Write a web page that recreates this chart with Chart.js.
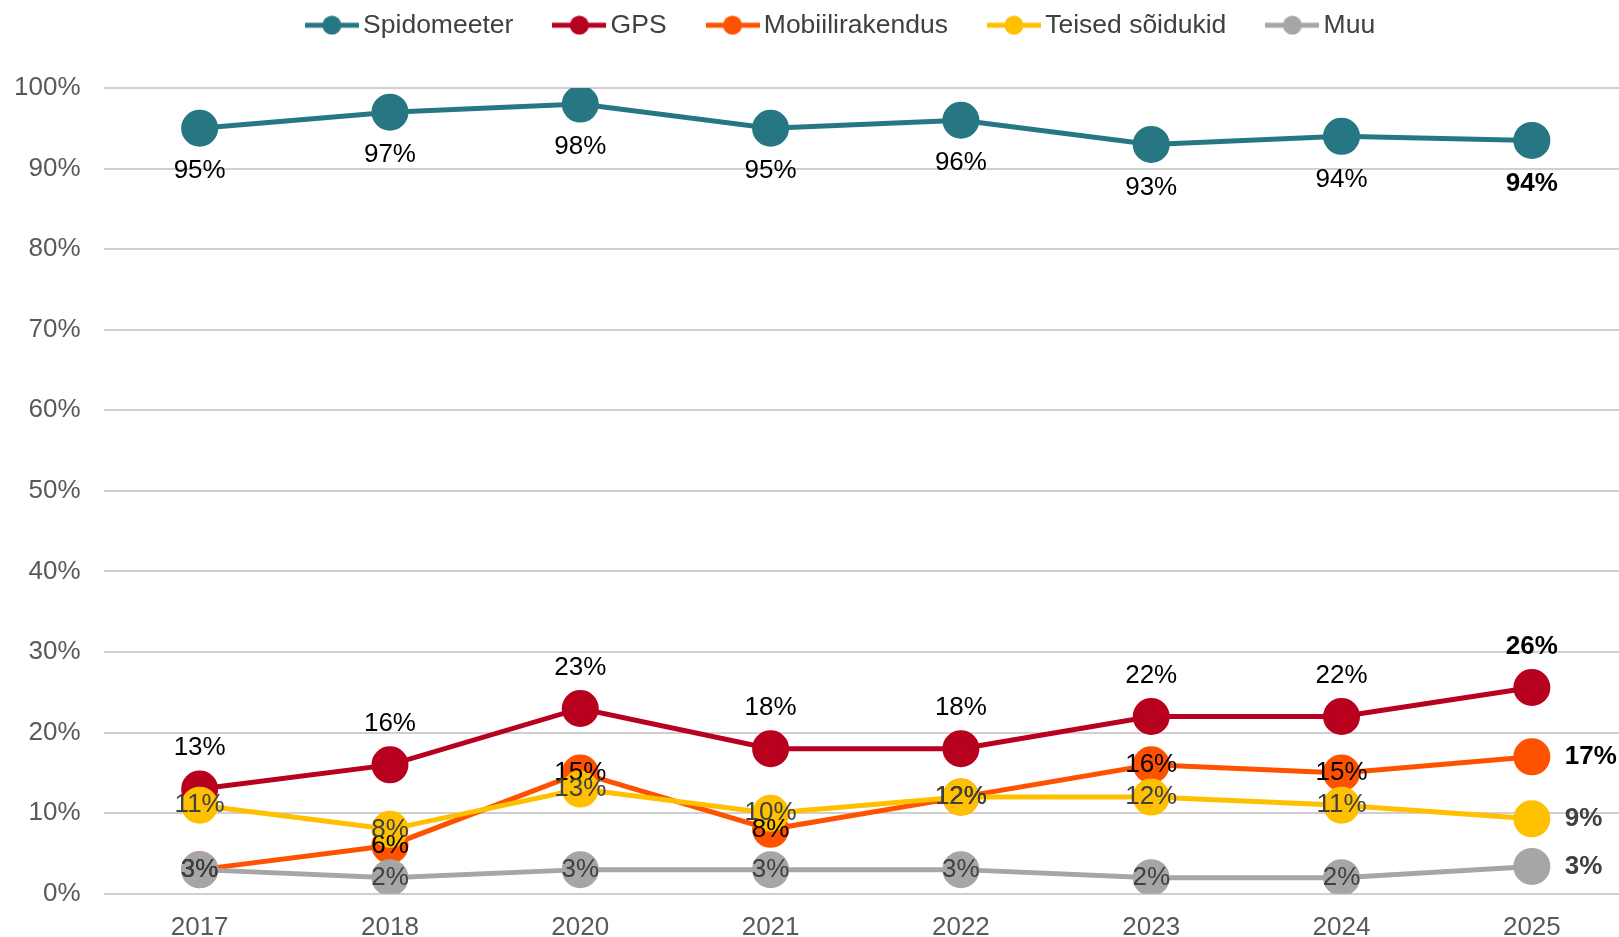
<!DOCTYPE html>
<html lang="et">
<head>
<meta charset="UTF-8">
<title>Kiiruse mõõtmine</title>
<script src="https://cdn.jsdelivr.net/npm/chart.js"></script>
<style>
    body {
        margin: 0;
        background: #fff;
        overflow: hidden;
    }
    .chart-box {
        width: 1627px; /* plot runs a bit past the right edge, like the original */
        height: 937px;
    }
</style>
</head>
<body>
<div class="chart-box"><canvas id="chart" width="1627" height="937"></canvas></div>
<script>
    const years = ['2017', '2018', '2020', '2021', '2022', '2023', '2024', '2025'];
    const spidomeeter = [95, 97, 98, 95, 96, 93, 94, 93.5];
    const gps = [13, 16, 23, 18, 18, 22, 22, 25.6];
    const mobiil = [3, 6, 15, 8, 12, 16, 15, 17];
    const teised = [11, 8, 13, 10, 12, 12, 11, 9.3];
    const muu = [3, 2, 3, 3, 3, 2, 2, 3.4];
    const yTicks = [0, 10, 20, 30, 40, 50, 60, 70, 80, 90, 100];

    const FONT = '"Liberation Sans", Arial, sans-serif';
    const LEGEND_H = 124;
    const LEGEND_SHIFT = 36;

    // legend marker: short line with a dot in the middle
    function legendMarker(color) {
        const c = document.createElement('canvas');
        c.width = 54;
        c.height = 20;
        const g = c.getContext('2d');
        g.strokeStyle = color;
        g.lineWidth = 5;
        g.beginPath();
        g.moveTo(0, 10);
        g.lineTo(54, 10);
        g.stroke();
        g.fillStyle = color;
        g.beginPath();
        g.arc(27, 10, 9.5, 0, Math.PI * 2);
        g.fill();
        return c;
    }

    function makeSeries(label, data, color, order, pos, lastPos, labelColor) {
        return {
            label: label,
            data: data,
            borderColor: color,
            backgroundColor: color,
            pointBackgroundColor: color,
            pointBorderColor: color,
            borderWidth: 5,
            pointRadius: 16,
            pointHoverRadius: 16,
            tension: 0,
            fill: false,
            order: order,
            labelPos: pos,
            lastLabelPos: lastPos,
            labelColor: labelColor,
            marker: legendMarker(color)
        };
    }

    // value labels drawn on top of everything
    const valueLabels = {
        id: 'valueLabels',
        afterDatasetsDraw(chart) {
            const ctx = chart.ctx;
            ctx.save();
            chart.data.datasets.forEach((ds, i) => {
                const meta = chart.getDatasetMeta(i);
                meta.data.forEach((pt, j) => {
                    const last = j === ds.data.length - 1;
                    const pos = last ? ds.lastLabelPos : ds.labelPos;
                    const text = Math.round(ds.data[j]) + '%';
                    ctx.font = (last ? 'bold ' : '') + '26px ' + FONT;
                    ctx.fillStyle = ds.labelColor;
                    ctx.textBaseline = 'middle';
                    let x = pt.x, y = pt.y;
                    ctx.textAlign = 'center';
                    if (pos === 'below') y += 43;
                    else if (pos === 'above') y -= 41;
                    else if (pos === 'right') { x += 33; ctx.textAlign = 'left'; }
                    ctx.fillText(text, x, y);
                });
            });
            ctx.restore();
        }
    };

    // fixed legend block height so the plot starts where the original does,
    // and nudge the legend row a little to the right
    const legendSpace = {
        id: 'legendSpace',
        beforeLayout(chart) {
            const lg = chart.legend;
            if (lg && !lg._fixedHeight) {
                const fit = lg.fit;
                lg.fit = function () {
                    fit.call(this);
                    this.height = LEGEND_H;
                };
                lg._fixedHeight = true;
            }
        },
        afterLayout(chart) {
            const lg = chart.legend;
            if (lg) {
                lg.left += LEGEND_SHIFT;
                lg.right += LEGEND_SHIFT;
            }
        }
    };

    const ctx = document.getElementById('chart').getContext('2d');
    new Chart(ctx, {
        type: 'line',
        data: {
            labels: years,
            datasets: [
                makeSeries('Spidomeeter', spidomeeter, '#267783', 5, 'below', 'below', '#000'),
                makeSeries('GPS', gps, '#b8001f', 4, 'above', 'above', '#000'),
                makeSeries('Mobiilirakendus', mobiil, '#ff5200', 3, 'center', 'right', '#000'),
                makeSeries('Teised sõidukid', teised, '#ffc000', 2, 'center', 'right', '#404040'),
                makeSeries('Muu', muu, '#a6a6a6', 1, 'center', 'right', '#404040')
            ]
        },
        options: {
            responsive: false,
            animation: false,
            layout: {
                autoPadding: false,
                padding: { top: -36, bottom: -24, left: -10, right: 0 }
            },
            plugins: {
                tooltip: { enabled: false },
                legend: {
                    position: 'top',
                    labels: {
                        usePointStyle: true,
                        pointStyleWidth: 36,
                        padding: 48,
                        color: '#404040',
                        font: { family: FONT, size: 26.5 },
                        generateLabels(chart) {
                            return chart.data.datasets.map((ds, i) => ({
                                text: ds.label,
                                fillStyle: ds.borderColor,
                                strokeStyle: ds.borderColor,
                                fontColor: '#404040',
                                lineWidth: 0,
                                pointStyle: ds.marker,
                                hidden: false,
                                datasetIndex: i
                            }));
                        }
                    }
                }
            },
            scales: {
                x: {
                    offset: true,
                    grid: { display: false, drawTicks: false },
                    border: { display: false },
                    ticks: {
                        color: '#595959',
                        padding: 18,
                        font: { family: FONT, size: 26 }
                    }
                },
                y: {
                    min: 0,
                    max: 100,
                    afterBuildTicks(axis) {
                        axis.ticks = yTicks.map(v => ({ value: v }));
                    },
                    grid: { color: '#d0d0d0', lineWidth: 2, drawTicks: false },
                    border: { display: false },
                    ticks: {
                        color: '#595959',
                        padding: 24,
                        font: { family: FONT, size: 26 },
                        callback: v => v + '%'
                    }
                }
            }
        },
        plugins: [valueLabels, legendSpace]
    });
</script>
</body>
</html>
